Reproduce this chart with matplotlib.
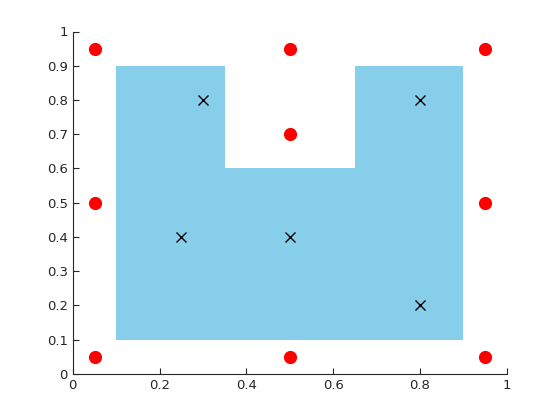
import numpy as np
from matplotlib import pyplot as plt

# region polygon (x, y corners)
poly_x = [0.1, 0.9, 0.9, 0.65, 0.65, 0.35, 0.35, 0.1]
poly_y = [0.1, 0.1, 0.9, 0.9, 0.6, 0.6, 0.9, 0.9]

# red points
red_x = [0.05, 0.5, 0.95, 0.5, 0.05, 0.95, 0.05, 0.5, 0.95]
red_y = [0.95, 0.95, 0.95, 0.7, 0.5, 0.5, 0.05, 0.05, 0.05]

# black crosses
cross_x = [0.3, 0.8, 0.25, 0.5, 0.8]
cross_y = [0.8, 0.8, 0.4, 0.4, 0.2]

ticks = np.round(np.arange(0, 1.01, 0.1), 1)

fig = plt.figure(figsize=(5.6, 4.2), dpi=100)
ax = fig.add_axes([0.13, 0.11, 0.775, 0.815])

ax.fill(poly_x, poly_y, color='#87ceeb', lw=0)
ax.plot(red_x, red_y, 'o', color='red', ms=9.5, mec='none')
ax.plot(cross_x, cross_y, 'x', color='black', ms=7, mew=1.0)

ax.set_xlim(0, 1)
ax.set_ylim(0, 1)
ax.set_xticks([0, 0.2, 0.4, 0.6, 0.8, 1])
ax.set_xticklabels(['0', '0.2', '0.4', '0.6', '0.8', '1'])
ax.set_yticks(ticks)
ax.set_yticklabels(['0'] + ['%.1f' % t for t in ticks[1:-1]] + ['1'])

for s in ['top', 'right']:
    ax.spines[s].set_visible(False)
for s in ['left', 'bottom']:
    ax.spines[s].set_color('#262626')
    ax.spines[s].set_linewidth(0.8)
ax.tick_params(direction='in', length=4, width=0.8, colors='#262626',
               labelsize=9.5, labelcolor='#262626')

fig.savefig('out.png', dpi=100)
